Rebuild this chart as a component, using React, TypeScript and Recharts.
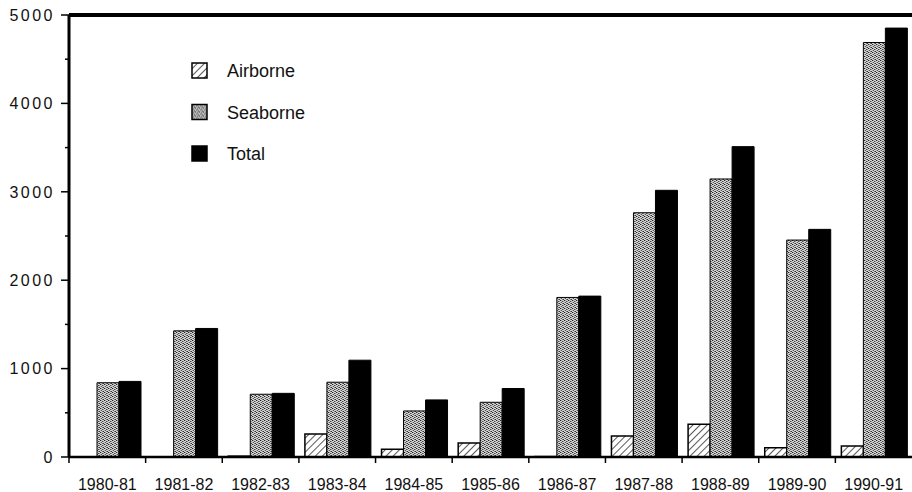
import React from 'react';
import { BarChart, Bar, XAxis, YAxis, Legend, ReferenceLine } from 'recharts';

const years = ['1980-81', '1981-82', '1982-83', '1983-84', '1984-85', '1985-86', '1986-87', '1987-88', '1988-89', '1989-90', '1990-91'];
const airborne = [0, 0, 10, 260, 87, 159, 5, 238, 370, 106, 125];
const seaborne = [840, 1427, 710, 846, 521, 619, 1805, 2763, 3145, 2454, 4689];
const total = [855, 1454, 720, 1095, 646, 775, 1820, 3017, 3511, 2575, 4852];
const yTicks = [0, 500, 1000, 1500, 2000, 2500, 3000, 3500, 4000, 4500, 5000];
const seriesNames = ['Airborne', 'Seaborne', 'Total'];

const data = years.map((y, i) => ({ year: y, airborne: airborne[i], seaborne: seaborne[i], total: total[i] }));

const FONT = '"Liberation Sans", Arial, Helvetica, sans-serif';

const Patterns = ({ prefix }: { prefix: string }) => (
  <defs>
    <pattern id={`${prefix}hatch`} width="5" height="5" patternUnits="userSpaceOnUse" patternTransform="rotate(45)">
      <rect width="5" height="5" fill="#fff" />
      <line x1="0" y1="0" x2="0" y2="5" stroke="#000" strokeWidth="1.3" />
    </pattern>
    <pattern id={`${prefix}stipple`} width="4" height="4" patternUnits="userSpaceOnUse">
      <rect width="4" height="4" fill="#d4d4d4" />
      <rect x="0" y="0" width="1" height="1" fill="#222" />
      <rect x="2" y="1" width="1" height="1" fill="#444" />
      <rect x="1" y="2" width="1" height="1" fill="#555" />
      <rect x="3" y="3" width="1" height="1" fill="#333" />
      <rect x="3" y="1" width="1" height="1" fill="#888" />
      <rect x="1" y="0" width="1" height="1" fill="#999" />
      <rect x="2" y="3" width="1" height="1" fill="#777" />
      <rect x="0" y="2" width="1" height="1" fill="#aaa" />
    </pattern>
  </defs>
);

const YTick = (props: any) => {
  const { x, y, payload } = props;
  const major = payload.value % 1000 === 0;
  return (
    <g>
      <line x1={x - (major ? 8 : 4)} x2={x} y1={y} y2={y} stroke="#000" strokeWidth={1.5} />
      {major && (
        <text x={x - 14} y={y + 5.8} textAnchor="end" fontSize={16} letterSpacing={2.5} fontFamily={FONT} fill="#111">
          {payload.value}
        </text>
      )}
    </g>
  );
};

const XTick = (props: any) => {
  const { x, y, payload } = props;
  const off = payload.offset ?? 38.3;
  return (
    <g>
      <line x1={x - off} x2={x - off} y1={y} y2={y + 6} stroke="#000" strokeWidth={1.5} />
      <text x={x} y={y + 33} textAnchor="middle" fontSize={16} fontFamily={FONT} fill="#111">
        {payload.value}
      </text>
    </g>
  );
};

const LegendContent = () => {
  const fills = ['url(#lghatch)', 'url(#lgstipple)', '#000'];
  return (
    <svg width={160} height={110} style={{ display: 'block' }}>
      <Patterns prefix="lg" />
      {seriesNames.map((n, i) => (
        <g key={n} transform={`translate(0, ${i * 41.5})`}>
          <rect x={1} y={1} width={15} height={15} fill={fills[i]} stroke="#000" strokeWidth={1.5} />
          <text x={36} y={15} fontSize={18} fontFamily={FONT} fill="#111">{n}</text>
        </g>
      ))}
    </svg>
  );
};

export default function App() {
  return (
    <div style={{ position: 'absolute', left: 0, top: 0, width: 912, height: 492, background: '#fff' }}>
      <BarChart
        width={912}
        height={492}
        data={data}
        margin={{ top: 15, right: 0, bottom: 0, left: 0 }}
        barCategoryGap={6}
        barGap={0}
      >
        <Patterns prefix="ch" />
        <XAxis
          dataKey="year"
          height={35}
          tickLine={false}
          tickSize={0}
          tickMargin={0}
          interval={0}
          axisLine={{ stroke: '#000', strokeWidth: 2.5 }}
          tick={<XTick />}
        />
        <YAxis
          width={69}
          domain={[0, 5000]}
          ticks={yTicks}
          interval={0}
          tickLine={false}
          tickSize={0}
          tickMargin={0}
          axisLine={{ stroke: '#000', strokeWidth: 3 }}
          tick={<YTick />}
          allowDataOverflow
        />
        <ReferenceLine y={5000} stroke="#000" strokeWidth={4} ifOverflow="visible" />
        <Legend
          layout="vertical"
          align="center"
          verticalAlign="middle"
          content={<LegendContent />}
          wrapperStyle={{ left: 191, top: 62, bottom: 'auto', width: 160, height: 110 }}
        />
        <Bar dataKey="airborne" name="Airborne" fill="url(#chhatch)" stroke="#000" strokeWidth={1.5} isAnimationActive={false} />
        <Bar dataKey="seaborne" name="Seaborne" fill="url(#chstipple)" stroke="#000" strokeWidth={1} isAnimationActive={false} />
        <Bar dataKey="total" name="Total" fill="#000" stroke="#000" strokeWidth={1} isAnimationActive={false} />
      </BarChart>
    </div>
  );
}
